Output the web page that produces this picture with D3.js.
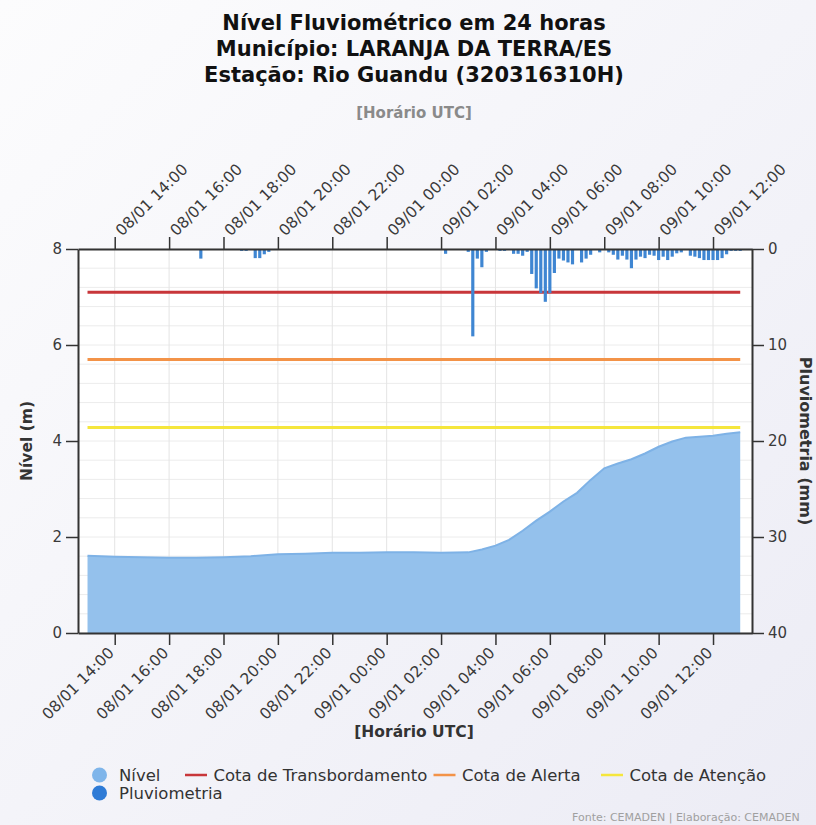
<!DOCTYPE html>
<html>
<head>
<meta charset="utf-8">
<script src="https://cdn.jsdelivr.net/npm/d3@7"></script>
<style>
  html, body { margin: 0; padding: 0; }
  body { width: 816px; height: 825px; overflow: hidden; font-family: "DejaVu Sans", sans-serif; }
</style>
</head>
<body>
<div id="chart"></div>
<script>
// data
const levelTimes = [
  "08/01 13:00", "08/01 14:00", "08/01 15:00", "08/01 16:00", "08/01 17:00", "08/01 18:00",
  "08/01 19:00", "08/01 20:00", "08/01 21:00", "08/01 22:00", "08/01 23:00", "09/01 00:00",
  "09/01 01:00", "09/01 02:00", "09/01 03:00", "09/01 03:30", "09/01 04:00", "09/01 04:30",
  "09/01 05:00", "09/01 05:30", "09/01 06:00", "09/01 06:30", "09/01 07:00", "09/01 07:30",
  "09/01 08:00", "09/01 08:30", "09/01 09:00", "09/01 09:30", "09/01 10:00", "09/01 10:30",
  "09/01 11:00", "09/01 11:30", "09/01 12:00", "09/01 12:30", "09/01 13:00"
];
const levelValues = [
  1.61, 1.59, 1.58, 1.57, 1.57, 1.58,
  1.60, 1.64, 1.65, 1.67, 1.67, 1.68,
  1.68, 1.67, 1.68, 1.74, 1.82, 1.94,
  2.13, 2.34, 2.53, 2.74, 2.92, 3.19,
  3.43, 3.53, 3.62, 3.74, 3.88, 3.99,
  4.07, 4.09, 4.11, 4.15, 4.18
];

const rainTimes = [
  "08/01 17:10", "08/01 17:50", "08/01 18:40", "08/01 18:50", "08/01 19:10", "08/01 19:20",
  "08/01 19:30", "08/01 19:40", "08/01 20:30",
  "09/01 02:10", "09/01 03:00", "09/01 03:10", "09/01 03:20", "09/01 03:30", "09/01 03:40",
  "09/01 04:10", "09/01 04:20", "09/01 04:40", "09/01 04:50", "09/01 05:00", "09/01 05:10",
  "09/01 05:20", "09/01 05:30", "09/01 05:40", "09/01 05:50", "09/01 06:00", "09/01 06:10",
  "09/01 06:20", "09/01 06:30", "09/01 06:40", "09/01 06:50", "09/01 07:10", "09/01 07:20",
  "09/01 07:30", "09/01 07:50", "09/01 08:10", "09/01 08:20", "09/01 08:30", "09/01 08:40",
  "09/01 08:50", "09/01 09:00", "09/01 09:10", "09/01 09:20", "09/01 09:30", "09/01 09:40",
  "09/01 09:50", "09/01 10:00", "09/01 10:10", "09/01 10:20", "09/01 10:30", "09/01 10:40",
  "09/01 10:50", "09/01 11:10", "09/01 11:20", "09/01 11:30", "09/01 11:40", "09/01 11:50",
  "09/01 12:00", "09/01 12:10", "09/01 12:20", "09/01 12:30", "09/01 12:40", "09/01 12:50",
  "09/01 13:00"
];
const rainValues = [
  1.0, 0.1, 0.2, 0.2, 0.95, 0.95,
  0.55, 0.3, 0.1,
  0.5, 0.3, 9.1, 1.0, 1.9, 0.3,
  0.2, 0.2, 0.5, 0.5, 0.7, 0.3,
  2.6, 4.1, 4.6, 5.5, 4.6, 2.5,
  1.0, 1.2, 1.4, 1.6, 1.4, 1.0,
  0.6, 0.35, 0.35, 0.6, 1.1, 0.7,
  1.1, 2.0, 1.1, 0.8, 0.95, 0.6,
  0.7, 1.15, 0.8, 1.15, 0.8, 0.45,
  0.35, 0.7, 0.8, 0.95, 1.15, 1.15,
  1.15, 1.15, 0.95, 0.55, 0.2, 0.2,
  0.2
];

const thresholdNames = ["Cota de Transbordamento", "Cota de Alerta", "Cota de Atenção"];
const thresholdValues = [7.10, 5.70, 4.28];
const thresholdColors = ["#c8363a", "#f39348", "#f5e63c"];

const xTickLabels = [
  "08/01 14:00", "08/01 16:00", "08/01 18:00", "08/01 20:00", "08/01 22:00", "09/01 00:00",
  "09/01 02:00", "09/01 04:00", "09/01 06:00", "09/01 08:00", "09/01 10:00", "09/01 12:00"
];
const levelTicks = [0, 2, 4, 6, 8];
const rainTicks = [0, 10, 20, 30, 40];

const titleLines = ["Nível Fluviométrico em 24 horas", "Município: LARANJA DA TERRA/ES", "Estação: Rio Guandu (320316310H)"];

// setup
const W = 816, H = 825;
const margin = {top: 249, right: 64, bottom: 192, left: 78};
const plotW = W - margin.left - margin.right;
const plotH = H - margin.top - margin.bottom;

const parseT = d3.utcParse("%d/%m %H:%M");
const fmtT = d3.utcFormat("%d/%m %H:%M");

const levelData = levelTimes.map((t, i) => ({t: parseT(t), v: levelValues[i]}));
const rainData = rainTimes.map((t, i) => ({t: parseT(t), v: rainValues[i]}));

const svg = d3.select("#chart").append("svg")
  .attr("width", W)
  .attr("height", H)
  .style("font-family", "'DejaVu Sans', sans-serif");

const defs = svg.append("defs");
const grad = defs.append("linearGradient").attr("id", "bg")
  .attr("x1", "0").attr("y1", "0").attr("x2", "1").attr("y2", "1");
grad.append("stop").attr("offset", "0%").attr("stop-color", "#fcfcfd");
grad.append("stop").attr("offset", "100%").attr("stop-color", "#ececf5");
svg.append("rect").attr("width", W).attr("height", H).attr("fill", "url(#bg)");

const xScale = d3.scaleUtc()
  .domain([parseT("08/01 12:39"), parseT("09/01 13:26")])
  .range([0, plotW]);
const yScale = d3.scaleLinear().domain([0, 8]).range([plotH, 0]);
const y2Scale = d3.scaleLinear().domain([0, 40]).range([0, plotH]);

const g = svg.append("g").attr("transform", `translate(${margin.left},${margin.top})`);

g.append("rect").attr("width", plotW).attr("height", plotH).attr("fill", "#fff");

// grid
g.append("g").selectAll("line").data(d3.range(0, 8.01, 0.4))
  .join("line")
  .attr("x1", 0).attr("x2", plotW)
  .attr("y1", d => yScale(d)).attr("y2", d => yScale(d))
  .attr("stroke", "#ececec").attr("stroke-width", 1);
g.append("g").selectAll("line").data(xTickLabels.map(parseT))
  .join("line")
  .attr("x1", d => xScale(d)).attr("x2", d => xScale(d))
  .attr("y1", 0).attr("y2", plotH)
  .attr("stroke", "#e4e4e4").attr("stroke-width", 1);

// level area
const area = d3.area()
  .x(d => xScale(d.t))
  .y0(yScale(0))
  .y1(d => yScale(d.v));
g.append("path").datum(levelData)
  .attr("d", area)
  .attr("fill", "#94c1ec");
g.append("path").datum(levelData)
  .attr("d", d3.line().x(d => xScale(d.t)).y(d => yScale(d.v)))
  .attr("fill", "none")
  .attr("stroke", "#7eb2e6")
  .attr("stroke-width", 2);

// threshold lines
const tStart = levelData[0].t, tEnd = levelData[levelData.length - 1].t;
g.append("g").selectAll("line").data(thresholdValues)
  .join("line")
  .attr("x1", xScale(tStart)).attr("x2", xScale(tEnd))
  .attr("y1", d => yScale(d)).attr("y2", d => yScale(d))
  .attr("stroke", (d, i) => thresholdColors[i])
  .attr("stroke-width", 3);

// rain bars
const barW = (xScale(parseT("08/01 13:10")) - xScale(parseT("08/01 13:00"))) * 0.7;
g.append("g").selectAll("rect").data(rainData)
  .join("rect")
  .attr("x", d => xScale(d.t) - barW / 2)
  .attr("y", 0)
  .attr("width", barW)
  .attr("height", d => y2Scale(d.v))
  .attr("fill", "#3f86d2");

// axes
const tickColor = "#3a3a3a";
const xTicks = xTickLabels.map(parseT);

const xTop = g.append("g")
  .call(d3.axisTop(xScale).tickValues(xTicks).tickFormat(fmtT).tickSize(12).tickSizeOuter(0));

const xBottom = g.append("g").attr("transform", `translate(0,${plotH})`)
  .call(d3.axisBottom(xScale).tickValues(xTicks).tickFormat(fmtT).tickSize(12).tickSizeOuter(0));

const yLeft = g.append("g")
  .call(d3.axisLeft(yScale).tickValues(levelTicks).tickSize(12).tickSizeOuter(0));
const yRight = g.append("g").attr("transform", `translate(${plotW},0)`)
  .call(d3.axisRight(y2Scale).tickValues(rainTicks).tickSize(12).tickSizeOuter(0));

[xTop, xBottom, yLeft, yRight].forEach(a => {
  a.select(".domain").attr("stroke", "#333").attr("stroke-width", 2);
  a.selectAll(".tick line").attr("stroke", "#333").attr("stroke-width", 1.5);
  a.selectAll(".tick text").attr("fill", tickColor).style("font-size", "15px")
    .style("font-family", "'DejaVu Sans', sans-serif");
});
xTop.selectAll("text")
  .style("font-size", "15.5px")
  .attr("x", 0).attr("y", 0).attr("dy", "0.35em")
  .attr("text-anchor", "start")
  .attr("transform", "translate(3,-16) rotate(-45)");
xBottom.selectAll("text")
  .style("font-size", "15.5px")
  .attr("x", 0).attr("y", 0).attr("dy", "0.35em")
  .attr("text-anchor", "end")
  .attr("transform", "translate(-4,17) rotate(-45)");
yLeft.selectAll(".tick text").attr("x", -16);
yRight.selectAll(".tick text").attr("x", 16);

// axis titles
g.append("text")
  .attr("transform", `translate(-46,${plotH / 2}) rotate(-90)`)
  .attr("text-anchor", "middle")
  .style("font-size", "15.5px").style("font-weight", "bold")
  .attr("fill", "#333")
  .text("Nível (m)");
g.append("text")
  .attr("transform", `translate(${plotW + 48},${plotH / 2}) rotate(90)`)
  .attr("text-anchor", "middle")
  .style("font-size", "16px").style("font-weight", "bold")
  .attr("fill", "#333")
  .text("Pluviometria (mm)");
svg.append("text")
  .attr("x", 414).attr("y", 737)
  .attr("text-anchor", "middle")
  .style("font-size", "15.5px").style("font-weight", "bold")
  .attr("fill", "#333")
  .text("[Horário UTC]");

// title
svg.append("g").selectAll("text").data(titleLines)
  .join("text")
  .attr("x", 414)
  .attr("y", (d, i) => 30 + i * 26)
  .attr("text-anchor", "middle")
  .style("font-size", "21px").style("font-weight", "bold")
  .attr("fill", "#111")
  .text(d => d);
svg.append("text")
  .attr("x", 414).attr("y", 118)
  .attr("text-anchor", "middle")
  .style("font-size", "15px").style("font-weight", "bold")
  .attr("fill", "#8a8a8a")
  .text("[Horário UTC]");

// legend
const legend = svg.append("g").style("font-size", "16.5px");
const legendDots = [
  {name: "Nível", color: "#7fb5ea", x: 99.5, y: 775},
  {name: "Pluviometria", color: "#2f7bd6", x: 99.5, y: 793}
];
legendDots.forEach(d => {
  legend.append("circle").attr("cx", d.x).attr("cy", d.y).attr("r", 7.5).attr("fill", d.color);
  legend.append("text").attr("x", d.x + 19.5).attr("y", d.y + 6).attr("fill", "#333").text(d.name);
});
const legendLineX = [185, 433.5, 601];
thresholdNames.forEach((name, i) => {
  const lx = legendLineX[i];
  legend.append("line").attr("x1", lx).attr("x2", lx + 22)
    .attr("y1", 775).attr("y2", 775)
    .attr("stroke", thresholdColors[i]).attr("stroke-width", 2.5);
  legend.append("text").attr("x", lx + 28.5).attr("y", 781).attr("fill", "#333").text(name);
});

// footer
svg.append("text")
  .attr("x", 572).attr("y", 821)
  .style("font-size", "11px")
  .attr("fill", "#a0a0a0")
  .text("Fonte: CEMADEN | Elaboração: CEMADEN");
</script>
</body>
</html>
